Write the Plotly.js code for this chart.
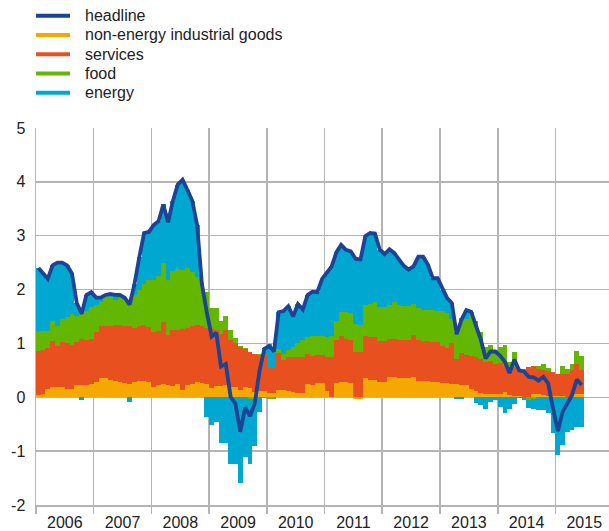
<!DOCTYPE html>
<html><head><meta charset="utf-8">
<script src="https://cdn.plot.ly/plotly-3.0.1.min.js"></script>
<style>html,body{margin:0;padding:0;background:#fff}#chart{width:609px;height:531px}</style>
</head><body><div id="chart"></div>
<script>
// ---- data (monthly, Jan 2006 - Jun 2015, contributions in percentage points) ----
const startYear = 2006;
const seriesNames = ['headline', 'non-energy industrial goods', 'services', 'food', 'energy'];
const yTickVals = [-2, -1, 0, 1, 2, 3, 4, 5];
const yTickText = ['-2', '-1', '0', '1', '2', '3', '4', '5'];

const neig = [
  0.05, 0.07, 0.16, 0.19, 0.19, 0.20, 0.15, 0.15, 0.22, 0.22, 0.22, 0.24,
  0.28, 0.35, 0.36, 0.32, 0.30, 0.28, 0.27, 0.25, 0.28, 0.30, 0.30, 0.28,
  0.20, 0.22, 0.25, 0.22, 0.21, 0.24, 0.14, 0.22, 0.24, 0.28, 0.27, 0.24,
  0.18, 0.21, 0.21, 0.22, 0.20, 0.19, 0.14, 0.20, 0.17, 0.10, 0.12, 0.12,
  0.08, 0.08, 0.13, 0.13, 0.12, 0.10, 0.08, 0.08, 0.25, 0.23, 0.27, 0.27,
  0.12, 0.01, 0.27, 0.28, 0.28, 0.27, -0.03, -0.03, 0.35, 0.33, 0.32, 0.29,
  0.28, 0.37, 0.37, 0.35, 0.35, 0.35, 0.38, 0.30, 0.31, 0.31, 0.29, 0.28,
  0.27, 0.27, 0.25, 0.24, 0.23, 0.22, 0.16, 0.11, 0.08, 0.07, 0.07, 0.06,
  0.07, 0.10, 0.04, 0.03, 0.02, 0.01, 0.01, 0.07, 0.06, 0.04, 0.03, 0.03,
  0.02, 0.02, 0.01, 0.04, 0.06, 0.06
];
const services = [
  0.81, 0.80, 0.76, 0.86, 0.76, 0.82, 0.85, 0.83, 0.81, 0.86, 0.84, 0.85,
  0.93, 0.97, 0.96, 1.01, 1.05, 1.06, 1.06, 1.08, 1.01, 1.03, 1.04, 1.03,
  1.01, 1.01, 1.15, 0.93, 1.04, 1.01, 1.12, 1.07, 1.08, 1.07, 1.06, 1.04,
  1.08, 1.04, 0.97, 1.03, 0.86, 0.81, 0.79, 0.70, 0.67, 0.70, 0.66, 0.68,
  0.49, 0.49, 0.69, 0.57, 0.63, 0.65, 0.66, 0.66, 0.55, 0.54, 0.51, 0.51,
  0.63, 0.73, 0.80, 0.85, 0.80, 0.80, 0.84, 0.84, 0.79, 0.79, 0.80, 0.75,
  0.76, 0.72, 0.72, 0.72, 0.71, 0.72, 0.77, 0.76, 0.74, 0.74, 0.73, 0.74,
  0.68, 0.65, 0.75, 0.48, 0.59, 0.57, 0.60, 0.63, 0.64, 0.59, 0.60, 0.56,
  0.56, 0.49, 0.49, 0.53, 0.48, 0.48, 0.56, 0.52, 0.47, 0.47, 0.45, 0.44,
  0.42, 0.42, 0.42, 0.47, 0.55, 0.45
];
const food = [
  0.37, 0.36, 0.31, 0.37, 0.37, 0.43, 0.49, 0.56, 0.48, 0.52, 0.54, 0.59,
  0.51, 0.45, 0.58, 0.53, 0.45, 0.51, 0.47, 0.45, 0.61, 0.67, 0.76, 0.86,
  0.96, 1.02, 1.09, 1.03, 1.09, 1.13, 1.11, 1.11, 1.01, 0.89, 0.75, 0.67,
  0.39, 0.41, 0.23, 0.26, 0.19, 0.10, 0.02, 0.01, -0.03, -0.03, 0.02, -0.02,
  -0.04, -0.03, 0.08, 0.11, 0.13, 0.19, 0.26, 0.32, 0.32, 0.36, 0.36, 0.35,
  0.37, 0.40, 0.35, 0.45, 0.50, 0.50, 0.52, 0.50, 0.57, 0.62, 0.65, 0.63,
  0.64, 0.62, 0.68, 0.64, 0.63, 0.63, 0.58, 0.60, 0.57, 0.57, 0.61, 0.58,
  0.65, 0.64, 0.45, 0.49, 0.65, 0.66, 0.79, 0.67, 0.49, 0.28, 0.30, 0.25,
  0.31, 0.38, 0.13, 0.28, 0.02, 0.04, -0.05, -0.04, 0.05, 0.10, 0.07, 0.00,
  0.00, 0.15, 0.10, 0.10, 0.25, 0.25
];
const energy = [
  1.17, 1.07, 0.97, 1.03, 1.18, 1.05, 0.96, 0.76, 0.24, -0.05, 0.30, 0.27,
  0.13, 0.08, 0.00, 0.06, 0.10, 0.05, 0.05, -0.08, 0.20, 0.60, 0.95, 0.90,
  1.03, 1.02, 1.09, 1.07, 1.31, 1.57, 1.67, 1.45, 1.32, 0.96, 0.02, -0.37,
  -0.52, -0.45, -0.84, -0.84, -1.24, -1.24, -1.59, -1.10, -1.20, -0.88, -0.27, 0.12,
  0.42, 0.31, 0.68, 0.79, 0.81, 0.56, 0.73, 0.57, 0.78, 0.83, 0.81, 1.07,
  1.20, 1.29, 1.27, 1.25, 1.16, 1.14, 1.24, 1.25, 1.28, 1.31, 1.27, 1.07,
  0.98, 1.04, 0.91, 0.86, 0.75, 0.67, 0.70, 0.95, 0.99, 0.84, 0.58, 0.61,
  0.40, 0.28, 0.30, -0.04, -0.03, 0.17, 0.04, -0.10, -0.15, -0.21, -0.09, -0.05,
  -0.18, -0.29, -0.21, -0.13, -0.02, -0.05, -0.14, -0.18, -0.24, -0.24, -0.30, -0.67,
  -1.07, -0.89, -0.64, -0.61, -0.55, -0.56
];
const headline = [
  2.40, 2.30, 2.20, 2.45, 2.50, 2.50, 2.45, 2.30, 1.75, 1.55, 1.90, 1.95,
  1.85, 1.85, 1.90, 1.92, 1.90, 1.90, 1.85, 1.72, 2.10, 2.60, 3.05, 3.07,
  3.20, 3.27, 3.58, 3.25, 3.65, 3.95, 4.04, 3.85, 3.65, 3.20, 2.10, 1.58,
  1.13, 1.20, 0.57, 0.62, 0.01, -0.12, -0.64, -0.19, -0.35, -0.11, 0.50, 0.90,
  0.95, 0.85, 1.58, 1.60, 1.69, 1.50, 1.73, 1.63, 1.90, 1.96, 1.95, 2.20,
  2.32, 2.43, 2.69, 2.83, 2.74, 2.71, 2.57, 2.56, 2.99, 3.05, 3.04, 2.74,
  2.66, 2.75, 2.68, 2.57, 2.44, 2.37, 2.43, 2.61, 2.61, 2.46, 2.21, 2.21,
  2.00, 1.84, 1.75, 1.17, 1.44, 1.62, 1.59, 1.31, 1.07, 0.72, 0.85, 0.85,
  0.77, 0.66, 0.45, 0.70, 0.50, 0.48, 0.38, 0.37, 0.31, 0.38, 0.26, -0.20,
  -0.63, -0.27, -0.10, 0.04, 0.33, 0.23
];

// ---- styles ----
const colors = {
  headline: '#1d4394', neig: '#f5a800', services: '#e8501f', food: '#63b700', energy: '#00a7d0'
};
const gridCol = '#b4b4b4';

// month positions (centre of each month) and widths (one month) on the date axis
const xs = [], widths = [];
for (let k = 0; k < headline.length; k++) {
  const a = Date.UTC(startYear, k, 1), b = Date.UTC(startYear, k + 1, 1);
  xs.push((a + b) / 2);
  widths.push(b - a);
}

function barTrace(y, color, name) {
  return { type: 'bar', x: xs, y: y, width: widths, name: name,
    marker: { color: color, line: { width: 0 } }, showlegend: false, hoverinfo: 'skip' };
}

const traces = [
  barTrace(neig, colors.neig, seriesNames[1]),
  barTrace(services, colors.services, seriesNames[2]),
  barTrace(food, colors.food, seriesNames[3]),
  barTrace(energy, colors.energy, seriesNames[4]),
  { type: 'scatter', mode: 'lines', x: xs, y: headline, name: seriesNames[0],
    line: { color: colors.headline, width: 3.8 }, showlegend: false, hoverinfo: 'skip' }
];

// ---- layout geometry ----
const W = 609, H = 531, L = 36, R = 0, T = 128, B = 26;
const pw = W - L - R, ph = H - T - B;
const px2x = p => (p - L) / pw;
const py2y = p => (H - B - p) / ph;

const legendColors = [colors.headline, colors.neig, colors.services, colors.food, colors.energy];
const shapes = [], annotations = [];
seriesNames.forEach((nm, i) => {
  const yc = 15.7 + i * 19.25;
  shapes.push({ type: 'line', xref: 'paper', yref: 'paper',
    x0: px2x(36), x1: px2x(70), y0: py2y(yc), y1: py2y(yc),
    line: { color: legendColors[i], width: 4 } });
  annotations.push({ xref: 'paper', yref: 'paper', x: px2x(83), y: py2y(yc),
    xanchor: 'left', yanchor: 'middle', showarrow: false, text: nm,
    font: { size: 16, color: '#222' } });
});

const layout = {
  width: W, height: H,
  margin: { l: L, r: R, t: T, b: B, pad: 0 },
  barmode: 'relative', bargap: 0,
  showlegend: false,
  paper_bgcolor: '#ffffff', plot_bgcolor: '#ffffff',
  font: { family: 'Liberation Sans, Arial, sans-serif', size: 16, color: '#222' },
  xaxis: {
    type: 'date', range: ['2006-01-01', '2015-12-06'],
    dtick: 'M12', tick0: '2006-01-01', ticklabelmode: 'period', tickformat: '%Y',
    showgrid: true, gridcolor: gridCol, gridwidth: 1.5,
    showline: true, linecolor: gridCol, linewidth: 1.5,
    ticks: 'outside', ticklen: 7, tickcolor: gridCol, tickwidth: 1.5,
    ticklabelstandoff: -5,
    zeroline: false, tickfont: { size: 16, color: '#222' }
  },
  yaxis: {
    range: [-2, 5], tickmode: 'array', tickvals: yTickVals, ticktext: yTickText,
    showgrid: true, gridcolor: gridCol, gridwidth: 1.5,
    showline: true, linecolor: gridCol, linewidth: 1.5,
    zeroline: false, ticks: '', ticklabelstandoff: 6,
    tickfont: { size: 16, color: '#222' }
  },
  shapes: shapes,
  annotations: annotations
};

Plotly.newPlot('chart', traces, layout, { staticPlot: true, displayModeBar: false });
</script>
</body></html>
